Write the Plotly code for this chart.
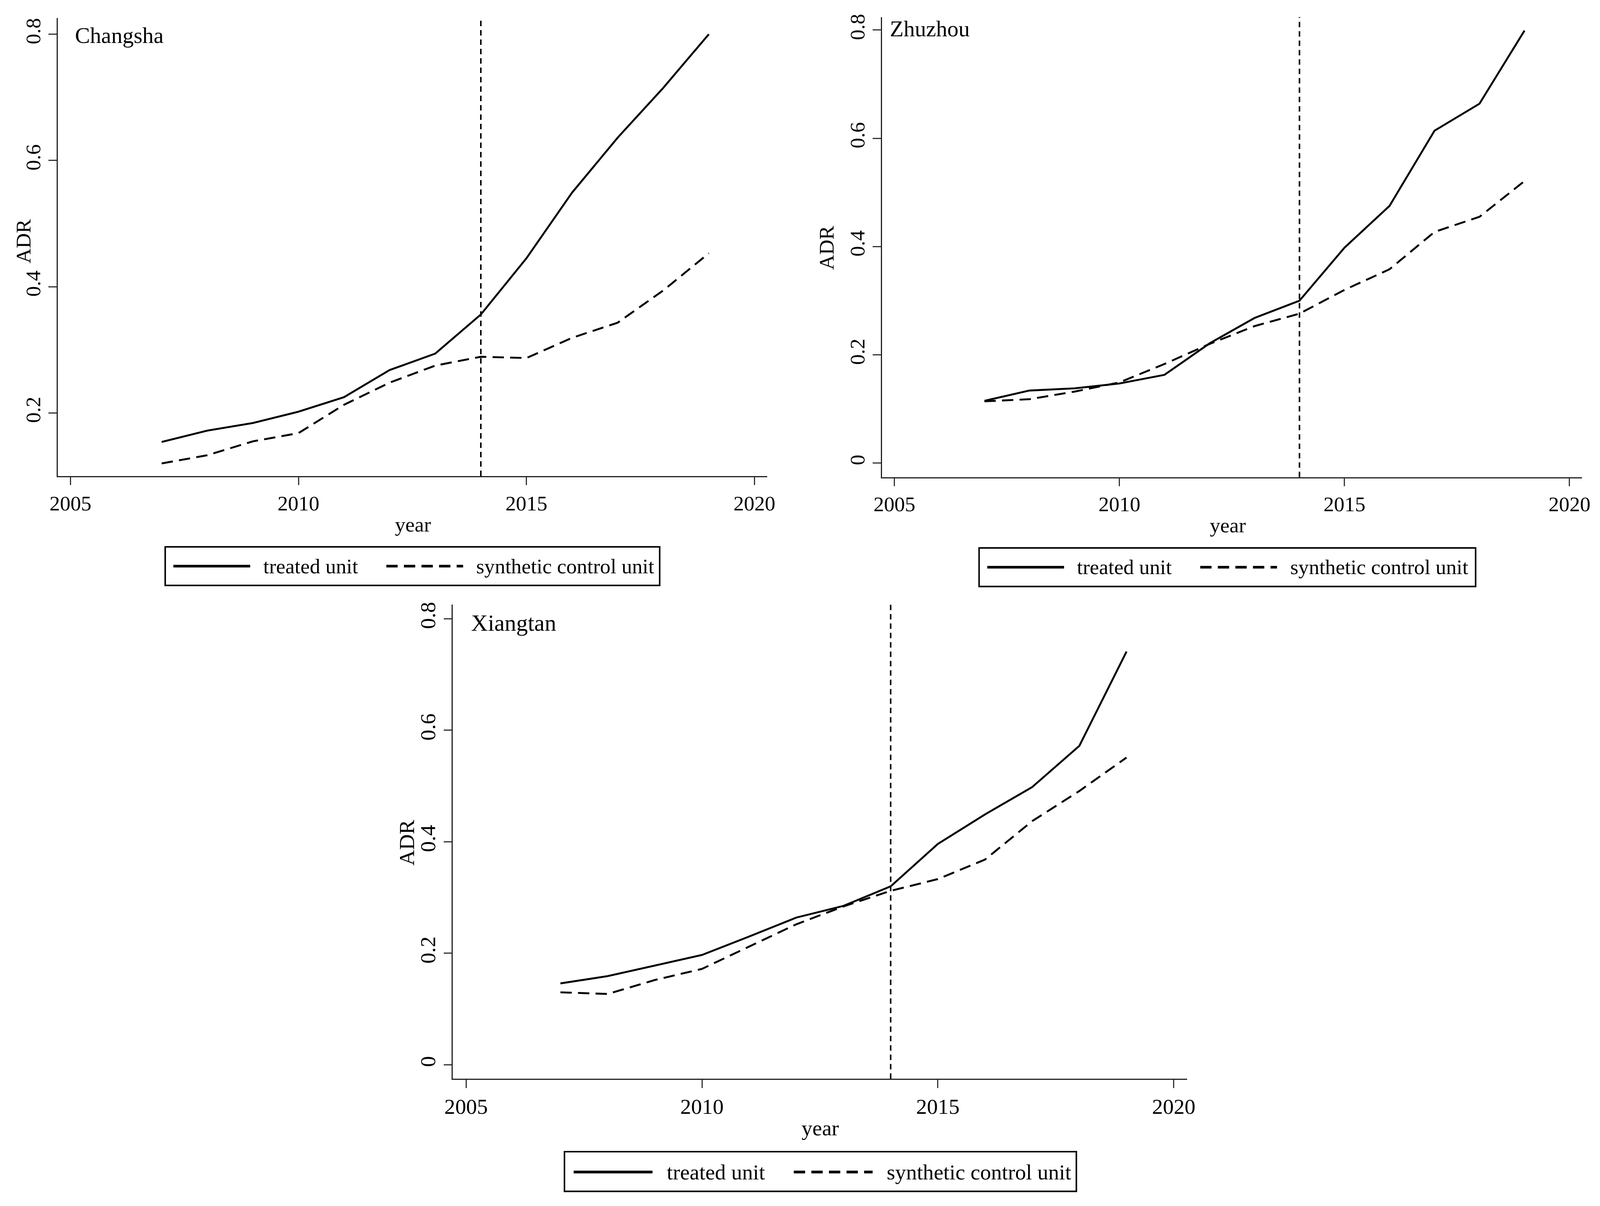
import plotly.graph_objects as go

# ---------------- data ----------------
years = [2007, 2008, 2009, 2010, 2011, 2012, 2013, 2014, 2015, 2016, 2017, 2018, 2019]
treat_year = 2014

changsha_treated = [0.154, 0.172, 0.184, 0.202, 0.225, 0.268, 0.294, 0.356, 0.445, 0.549, 0.636, 0.715, 0.800]
changsha_synth = [0.120, 0.133, 0.155, 0.168, 0.213, 0.248, 0.275, 0.289, 0.287, 0.319, 0.343, 0.394, 0.453]

zhuzhou_treated = [0.115, 0.134, 0.138, 0.147, 0.163, 0.221, 0.268, 0.300, 0.398, 0.475, 0.614, 0.664, 0.799]
zhuzhou_synth = [0.114, 0.118, 0.132, 0.149, 0.183, 0.220, 0.253, 0.276, 0.320, 0.358, 0.427, 0.455, 0.521]

xiangtan_treated = [0.146, 0.159, 0.178, 0.197, 0.230, 0.264, 0.285, 0.320, 0.396, 0.449, 0.498, 0.572, 0.741]
xiangtan_synth = [0.130, 0.127, 0.152, 0.172, 0.212, 0.252, 0.284, 0.312, 0.333, 0.368, 0.437, 0.491, 0.551]

x_ticks = [2005, 2010, 2015, 2020]
y_ticks_a = [0.2, 0.4, 0.6, 0.8]
y_ticks_a_text = ["0.2", "0.4", "0.6", "0.8"]
y_ticks_b = [0, 0.2, 0.4, 0.6, 0.8]
y_ticks_b_text = ["0", "0.2", "0.4", "0.6", "0.8"]

cities = ["Changsha", "Zhuzhou", "Xiangtan"]
series_names = ["treated unit", "synthetic control unit"]

# ---------------- layout helpers (reference units, ~1560 x 1122.5) ----------------
FW, FH = 4292, 3088
SX, OX = 2.648, 32.0   # horizontal px per reference unit, offset
SY, OY = 2.753, 19.0   # vertical px per reference unit, offset
K = 0.975              # size scale for fonts / strokes


def px(x):
    return (x * SX - OX) / FW


def py(y):
    return 1 - (y * SY - OY) / FH


def sz(v):
    return v * K


FONT = "Liberation Serif, Times New Roman, serif"
BLACK = "#000000"

panels = [
    dict(name=cities[0], treated=changsha_treated, synth=changsha_synth,
         xdom=[px(57), px(750)], ydom=[py(445), py(18)], yrange=[0.1, 0.8255],
         yt=y_ticks_a, ytt=y_ticks_a_text,
         title_xy=(73, 34), adr_xy=(23.5, 226), year_xy=(404, 490),
         legend=dict(box=(162, 511, 645, 547), ym=529, s=(170, 245), t1=257, d=(378, 453), t2=465),
         fs=55),
    dict(name=cities[1], treated=zhuzhou_treated, synth=zhuzhou_synth,
         xdom=[px(862), px(1546)], ydom=[py(446), py(17)], yrange=[-0.026, 0.824],
         yt=y_ticks_b, ytt=y_ticks_b_text,
         title_xy=(869, 28), adr_xy=(808, 232), year_xy=(1200, 491),
         legend=dict(box=(957, 512, 1442, 548), ym=530, s=(965, 1040), t1=1052, d=(1173, 1248), t2=1260),
         fs=55),
    dict(name=cities[2], treated=xiangtan_treated, synth=xiangtan_synth,
         xdom=[px(443), px(1160)], ydom=[py(1007), py(565)], yrange=[-0.025, 0.825],
         yt=y_ticks_b, ytt=y_ticks_b_text,
         title_xy=(460, 582), adr_xy=(398, 787), year_xy=(802, 1053),
         legend=dict(box=(552, 1075, 1052, 1112), ym=1094, s=(561, 638), t1=651, d=(776, 853), t2=866),
         fs=57),
]

dash_series = "%dpx,%dpx" % (round(sz(30)), round(sz(16)))
dash_vline = "%dpx,%dpx" % (round(sz(14)), round(sz(10)))

fig = go.Figure()
shapes = []
annotations = []

for i, p in enumerate(panels):
    n = "" if i == 0 else str(i + 1)
    xa, ya = "x" + n, "y" + n
    fs = sz(p["fs"])
    fig.add_trace(go.Scatter(x=years, y=p["treated"], mode="lines", name=series_names[0],
                             line=dict(color=BLACK, width=sz(5)), xaxis=xa, yaxis=ya, showlegend=False))
    fig.add_trace(go.Scatter(x=years, y=p["synth"], mode="lines", name=series_names[1],
                             line=dict(color=BLACK, width=sz(5), dash=dash_series), xaxis=xa, yaxis=ya,
                             showlegend=False))
    axis_common = dict(showline=True, linecolor="#222222", linewidth=sz(3), ticks="outside",
                       ticklen=sz(21), tickwidth=sz(3), tickcolor="#333333", showgrid=False, zeroline=False,
                       tickfont=dict(family=FONT, size=fs, color=BLACK))
    fig.update_layout(**{
        "xaxis" + n: dict(domain=p["xdom"], range=[2004.72, 2020.28], tickvals=x_ticks,
                          anchor=ya, **axis_common),
        "yaxis" + n: dict(domain=p["ydom"], range=p["yrange"], tickvals=p["yt"], ticktext=p["ytt"],
                          tickangle=-90, anchor=xa, **axis_common),
    })
    # vertical intervention line
    shapes.append(dict(type="line", xref=xa, yref=ya + " domain", x0=treat_year, x1=treat_year,
                       y0=0, y1=1, line=dict(color=BLACK, width=sz(4), dash=dash_vline)))
    # city label
    annotations.append(dict(text=p["name"], xref="paper", yref="paper",
                            x=px(p["title_xy"][0]), y=py(p["title_xy"][1]),
                            xanchor="left", yanchor="middle", showarrow=False,
                            font=dict(family=FONT, size=sz(p["fs"] + 4), color=BLACK)))
    # y title
    annotations.append(dict(text="ADR", xref="paper", yref="paper",
                            x=px(p["adr_xy"][0]), y=py(p["adr_xy"][1]), textangle=-90,
                            xanchor="center", yanchor="middle", showarrow=False,
                            font=dict(family=FONT, size=fs, color=BLACK)))
    # x title
    annotations.append(dict(text="year", xref="paper", yref="paper",
                            x=px(p["year_xy"][0]), y=py(p["year_xy"][1]),
                            xanchor="center", yanchor="middle", showarrow=False,
                            font=dict(family=FONT, size=fs, color=BLACK)))
    # legend box
    lg = p["legend"]
    bx0, by0, bx1, by1 = lg["box"]
    shapes.append(dict(type="rect", xref="paper", yref="paper",
                       x0=px(bx0), x1=px(bx1), y0=py(by1), y1=py(by0),
                       line=dict(color=BLACK, width=sz(4)), fillcolor="rgba(0,0,0,0)"))
    shapes.append(dict(type="line", xref="paper", yref="paper",
                       x0=px(lg["s"][0]), x1=px(lg["s"][1]), y0=py(lg["ym"]), y1=py(lg["ym"]),
                       line=dict(color=BLACK, width=sz(7))))
    shapes.append(dict(type="line", xref="paper", yref="paper",
                       x0=px(lg["d"][0]), x1=px(lg["d"][1]), y0=py(lg["ym"]), y1=py(lg["ym"]),
                       line=dict(color=BLACK, width=sz(7), dash=dash_series)))
    annotations.append(dict(text=series_names[0], xref="paper", yref="paper",
                            x=px(lg["t1"]), y=py(lg["ym"]), xanchor="left", yanchor="middle",
                            showarrow=False, font=dict(family=FONT, size=fs, color=BLACK)))
    annotations.append(dict(text=series_names[1], xref="paper", yref="paper",
                            x=px(lg["t2"]), y=py(lg["ym"]), xanchor="left", yanchor="middle",
                            showarrow=False, font=dict(family=FONT, size=fs, color=BLACK)))

fig.update_layout(width=FW, height=FH, margin=dict(l=0, r=0, t=0, b=0),
                  paper_bgcolor="white", plot_bgcolor="white", showlegend=False,
                  shapes=shapes, annotations=annotations,
                  font=dict(family=FONT, color=BLACK))

fig.write_html("out.html")
